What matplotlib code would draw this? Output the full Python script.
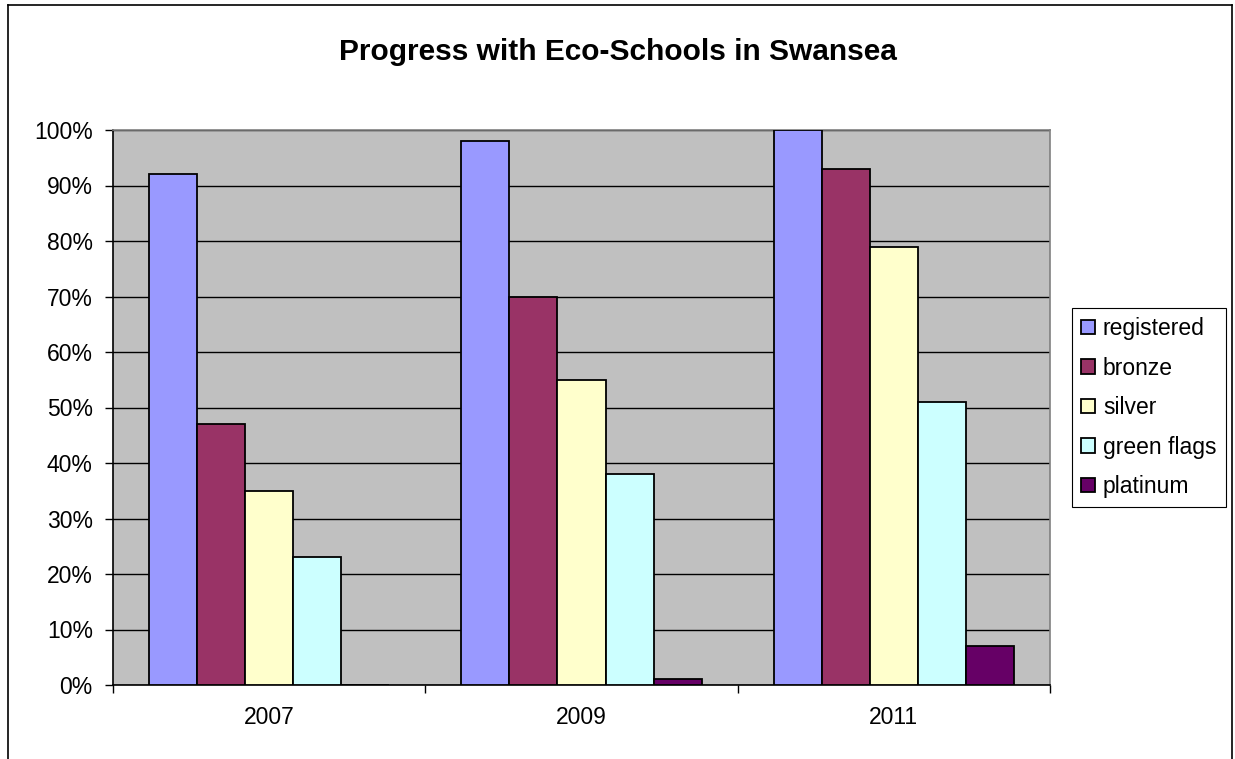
import numpy as np
import matplotlib
matplotlib.use("Agg")
import matplotlib.pyplot as plt
from matplotlib.lines import Line2D
from matplotlib.ticker import FixedLocator, PercentFormatter

plt.rcParams["font.family"] = ["Liberation Sans", "DejaVu Sans"]

years = ["2007", "2009", "2011"]
series = ["registered", "bronze", "silver", "green flags", "platinum"]
registered = [92, 98, 100]
bronze = [47, 70, 93]
silver = [35, 55, 79]
green_flags = [23, 38, 51]
platinum = [0, 1, 7]
values = [registered, bronze, silver, green_flags, platinum]
colors = ["#9999FF", "#993366", "#FFFFCC", "#CCFFFF", "#660066"]

W, H = 1235, 759
FS = 16.5
fig = plt.figure(figsize=(W / 100, H / 100), dpi=100, facecolor="white")
ax = fig.add_axes([113 / W, 1 - 685 / H, (1050 - 113) / W, (685 - 130) / H])
ax.set_facecolor("#C0C0C0")

n = len(series)
bw = 1 / (n + 1.5)
x0 = np.arange(len(years))
for i, (name, vals, col) in enumerate(zip(series, values, colors)):
    xs = x0 + 0.75 * bw + i * bw
    ax.bar(xs, vals, width=bw, align="edge", color=col, edgecolor="black",
           linewidth=1.3, label=name, zorder=3)

ax.set_xlim(0, len(years))
ax.set_ylim(0, 100)
ax.yaxis.set_major_locator(FixedLocator(np.arange(0, 101, 10)))
ax.yaxis.set_major_formatter(PercentFormatter(decimals=0))
ax.grid(axis="y", color="black", linewidth=1.0, zorder=1)

ax.xaxis.set_major_locator(FixedLocator(np.arange(len(years) + 1)))
ax.xaxis.set_minor_locator(FixedLocator(x0 + 0.5))
ax.set_xticklabels([])
ax.set_xticklabels(years, minor=True)
ax.tick_params(axis="x", which="major", length=5.5, width=1, color="black", direction="out")
ax.tick_params(axis="x", which="minor", length=0, pad=15, labelsize=FS)
ax.tick_params(axis="y", length=5.5, width=1, color="black", direction="out",
               labelsize=FS, pad=9)

for sp in ("left", "bottom"):
    ax.spines[sp].set_color("black")
    ax.spines[sp].set_linewidth(1.2)
for sp in ("top", "right"):
    ax.spines[sp].set_color("#808080")
    ax.spines[sp].set_linewidth(1.2)

leg = fig.legend(loc="upper left", bbox_to_anchor=(1072 / W, 1 - 308 / H),
                 fontsize=FS, frameon=True, fancybox=False, framealpha=1,
                 edgecolor="black", handlelength=0.6, handleheight=0.6,
                 handletextpad=0.35, labelspacing=0.72, borderpad=0.4,
                 borderaxespad=0)
leg.get_frame().set_linewidth(0.8)

fig.text(0.5, 1 - 52 / H, "Progress with Eco-Schools in Swansea",
         ha="center", va="center", fontsize=21.5, fontweight="bold")

# outer chart border
for xs, ys in (([8, 1232], [5, 5]), ([8, 8], [5, 760]), ([1232, 1232], [5, 760])):
    fig.add_artist(Line2D([x / W for x in xs], [1 - y / H for y in ys],
                          color="black", linewidth=1.2))

fig.savefig("out.png", dpi=100, facecolor="white")
